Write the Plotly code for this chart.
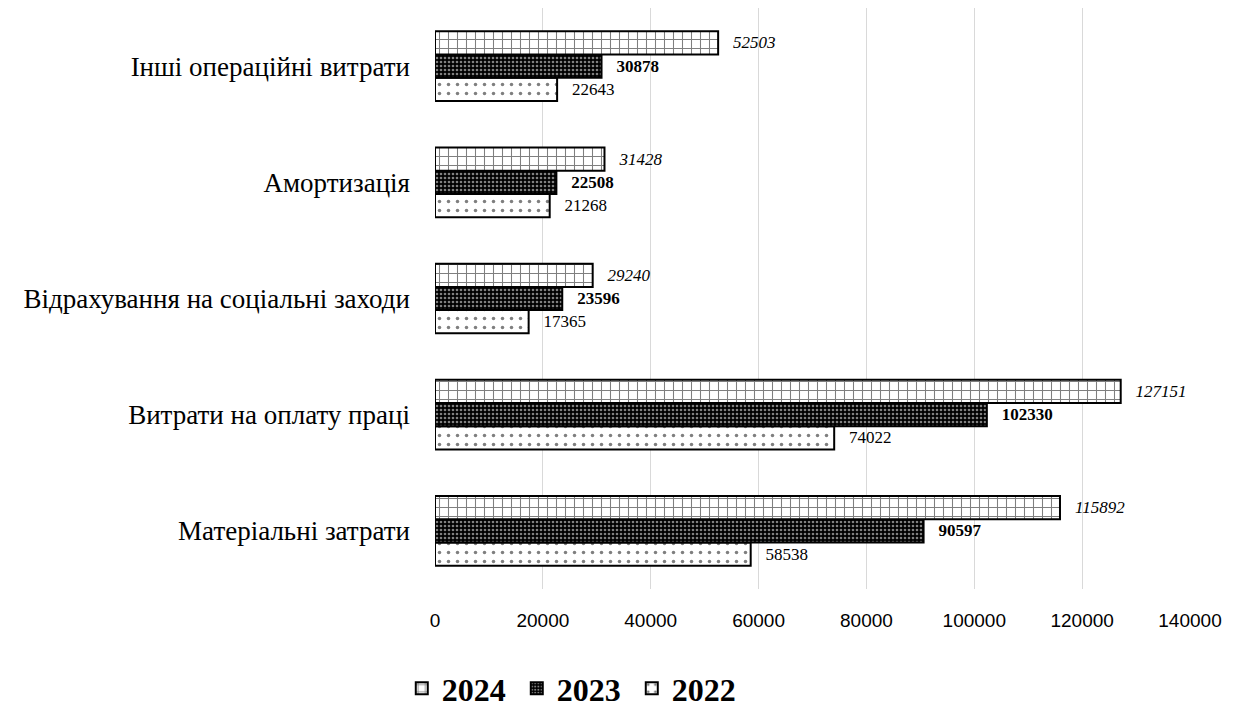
import plotly.graph_objects as go

categories = ["Матеріальні затрати", "Витрати на оплату праці", "Відрахування на соціальні заходи", "Амортизація", "Інші операційні витрати"]
v2022 = [58538, 74022, 17365, 21268, 22643]
v2023 = [90597, 102330, 23596, 22508, 30878]
v2024 = [115892, 127151, 29240, 31428, 52503]
tick_vals = [0, 20000, 40000, 60000, 80000, 100000, 120000, 140000]

SERIF = "Liberation Serif, DejaVu Serif, serif"
SANS = "Liberation Sans, Arial, sans-serif"
PAD = "\u2002\u2009"

fig = go.Figure()
fig.add_trace(go.Bar(
    name="2022", y=categories, x=v2022, orientation="h",
    text=[PAD + str(v) for v in v2022], textposition="outside",
    textfont=dict(family=SERIF, size=17, color="black"),
    marker=dict(color="white", line=dict(color="black", width=2),
                pattern=dict(shape=".", fgcolor="black", bgcolor="white", size=9, solidity=0.12)),
    cliponaxis=False,
))
fig.add_trace(go.Bar(
    name="2023", y=categories, x=v2023, orientation="h",
    text=[PAD + "<b>%d</b>" % v for v in v2023], textposition="outside",
    textfont=dict(family=SERIF, size=17, color="black"),
    marker=dict(color="black", line=dict(color="black", width=2),
                pattern=dict(shape=".", fgcolor="white", bgcolor="black", size=4, solidity=0.35)),
    cliponaxis=False,
))
fig.add_trace(go.Bar(
    name="2024", y=categories, x=v2024, orientation="h",
    text=[PAD + "<i>%d</i>" % v for v in v2024], textposition="outside",
    textfont=dict(family=SERIF, size=17, color="black"),
    marker=dict(color="white", line=dict(color="black", width=2),
                pattern=dict(shape="+", fgcolor="black", bgcolor="white", size=9, solidity=0.22)),
    cliponaxis=False,
))

fig.update_layout(
    width=1232, height=707,
    paper_bgcolor="white", plot_bgcolor="white",
    barmode="group", bargap=0.4, bargroupgap=0.0,
    margin=dict(l=427, r=50, t=0, b=126, autoexpand=False),
    font=dict(family=SERIF, color="black"),
    showlegend=True,
    legend=dict(orientation="h", x=-0.044, xanchor="left", y=-0.171, yanchor="middle",
                traceorder="reversed", font=dict(family=SERIF, size=32, color="black", weight="bold"),
                itemwidth=30, entrywidth=70, entrywidthmode="pixels"),
    xaxis=dict(range=[0, 140000], tickvals=tick_vals, ticktext=[str(t) for t in tick_vals],
               showgrid=True, gridcolor="#d9d9d9", gridwidth=1, zeroline=False,
               tickfont=dict(family=SANS, size=19, color="black"), ticks="", ticklabelstandoff=18,
               showline=False),
    yaxis=dict(tickfont=dict(family=SERIF, size=27, color="black"), ticks="",
               ticklabelstandoff=24, showline=False, showgrid=False),
)

fig.write_html("out.html")
